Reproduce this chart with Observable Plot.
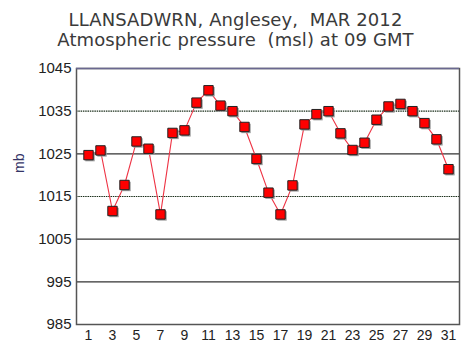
<!DOCTYPE html>
<html><head><meta charset="utf-8">
<script src="https://cdn.jsdelivr.net/npm/d3@7"></script>
<script src="https://cdn.jsdelivr.net/npm/@observablehq/plot@0.6"></script>
<style>
body{margin:0;background:#fff;}
#title{width:471px;height:60px;text-align:center;font-family:"DejaVu Sans",sans-serif;font-size:18px;color:#3a3a3a;line-height:20px;padding-top:10px;box-sizing:border-box;letter-spacing:0.1px;}
g[aria-label="x-axis tick label"]{font-family:"Liberation Sans",Arial,sans-serif;font-size:14px;}
g[aria-label="y-axis tick label"]{font-family:"Liberation Sans",Arial,sans-serif;font-size:15px;}
</style>
</head><body>
<div id="title">LLANSADWRN, Anglesey,&nbsp; MAR 2012<br>Atmospheric pressure&nbsp; (msl) at 09 GMT</div>
<div id="chart"></div>
<script>
const days = d3.range(1, 32);
const pressure = [1024.7,1025.8,1011.6,1017.7,1027.9,1026.2,1010.8,1029.9,1030.5,1037.0,
  1039.9,1036.3,1035.0,1031.3,1023.8,1015.9,1010.8,1017.6,1031.9,1034.3,
  1035.0,1029.8,1025.9,1027.6,1033.0,1036.1,1036.7,1035.0,1032.2,1028.4,1021.4];
const yTicks = [985,995,1005,1015,1025,1035,1045];
const xTicks = days.filter(d => d % 2 === 1);
const solidGrid = [995,1005,1025];
const dottedGrid = [1015,1035];
const data = days.map((d,i) => ({day: d, p: pressure[i]}));

const chart = Plot.plot({
  width: 471, height: 298,
  marginTop: 8, marginBottom: 34, marginLeft: 76, marginRight: 12,
  style: {fontFamily: "'Liberation Sans', Arial, sans-serif", fontSize: "13px", color: "#222", background: "#fff"},
  x: {type: "point", domain: days, padding: 0.5, ticks: xTicks, tickSize: 0, tickPadding: 6, label: null},
  y: {domain: [985,1045], ticks: yTicks, tickSize: 0, tickPadding: 5, tickFormat: "d", label: null},
  marks: [
    Plot.ruleY(solidGrid, {stroke: "#333", strokeWidth: 1.3}),
    Plot.ruleY(dottedGrid, {stroke: "#1a2e1a", strokeWidth: 1.2, strokeDasharray: "1.5,0.8"}),
    Plot.frame({stroke: "#555", strokeWidth: 1.5}),
    Plot.ruleY([1045], {stroke: "#6a6890", strokeWidth: 1.6}),
    Plot.line(data, {x: "day", y: "p", stroke: "#ee3344", strokeWidth: 1.1}),
    Plot.dot(data, {x: "day", y: "p", symbol: "square", r: 5.3, fill: "#999", stroke: "none", dx: 1.5, dy: 1.5}),
    Plot.dot(data, {x: "day", y: "p", symbol: "square", r: 5.3, fill: "#ff0000", stroke: "#222", strokeWidth: 1}),
    Plot.text(["mb"], {frameAnchor: "left", y: [1020.5], dx: -57, rotate: -90, text: d => d, fill: "#333366", fontSize: 14})
  ]
});
document.getElementById("chart").appendChild(chart);
</script>
</body></html>
